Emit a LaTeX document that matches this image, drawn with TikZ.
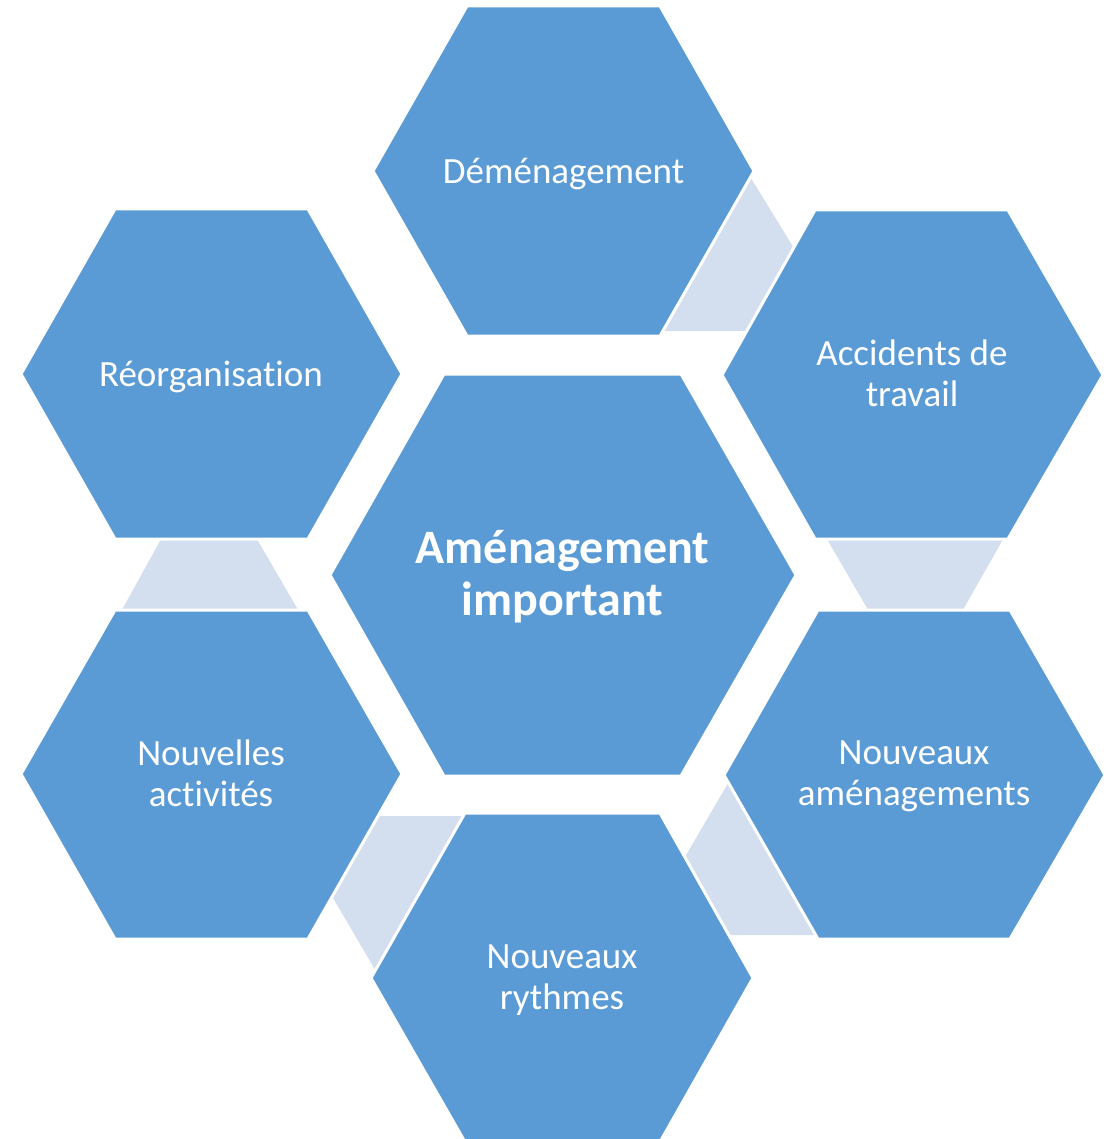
\documentclass[tikz,border=0pt]{standalone}
\usepackage{fontspec}
\setmainfont{Carlito}[Ligatures=NoCommon]
\definecolor{hexblue}{HTML}{5B9BD5}
\definecolor{connblue}{HTML}{D3DEEF}
\tikzset{
  hexbox/.style={fill=hexblue, draw=white, line width=3pt, line join=miter},
  connbox/.style={fill=connblue, draw=none},
  lbl/.style={text=white, align=center, inner sep=0pt, font=\fontsize{37}{41}\selectfont},
  mainlbl/.style={text=white, align=center, inner sep=0pt, font=\fontsize{48}{52}\selectfont\bfseries}
}
\begin{document}
\begin{tikzpicture}[x=1pt,y=-1pt]
\useasboundingbox (0,0) rectangle (1112,1139);
% connectors
\path[connbox] (744.7,168) -- (800,258) -- (770,331) -- (640,331) -- (700,168) -- cycle;
\path[connbox] (824,534) -- (1006,534) -- (960,615) -- (871,615) -- cycle;
\path[connbox] (729.3,781) -- (760,800) -- (830,935) -- (700,935) -- (677.4,870) -- cycle;
\path[connbox] (360,816) -- (480,816) -- (384,985) -- (322.5,880) -- cycle;
\path[connbox] (162.8,536) -- (255.1,536) -- (299.9,613) -- (120.2,613) -- cycle;
% hexagons
\path[hexbox] (467,6) -- (660,6) -- (754,171) -- (660,336) -- (467,336) -- (373,171) -- cycle;
\path[hexbox] (815,210) -- (1008,210) -- (1103,375) -- (1008,539) -- (815,539) -- (722,375) -- cycle;
\path[hexbox] (115,209) -- (308,209) -- (402,374) -- (308,539) -- (115,539) -- (21,374) -- cycle;
\path[hexbox] (444,374) -- (681,374) -- (796,575) -- (681,776) -- (444,776) -- (330,575) -- cycle;
\path[hexbox] (115,610) -- (308,610) -- (402,774) -- (308,939) -- (115,939) -- (21,774) -- cycle;
\path[hexbox] (818,610) -- (1010,610) -- (1105,775) -- (1010,939) -- (818,939) -- (724,775) -- cycle;
\path[hexbox] (465,813) -- (660,813) -- (753,978) -- (660,1142) -- (465,1142) -- (371,978) -- cycle;
% labels
\node[lbl] (tD) at (563.5,174) {Déménagement};
\node[lbl] (tA) at (912,373) {Accidents de\\travail};
\node[lbl] (tR) at (211,377) {Réorganisation};
\node[mainlbl] (tC) at (562.5,577) {Aménagement\\important};
\node[lbl] (tNA) at (211,773) {Nouvelles\\activités};
\node[lbl] (tNM) at (914,776) {Nouveaux\\aménagements};
\node[lbl] (tNR) at (562,980) {Nouveaux\\rythmes};
\end{tikzpicture}
\end{document}
